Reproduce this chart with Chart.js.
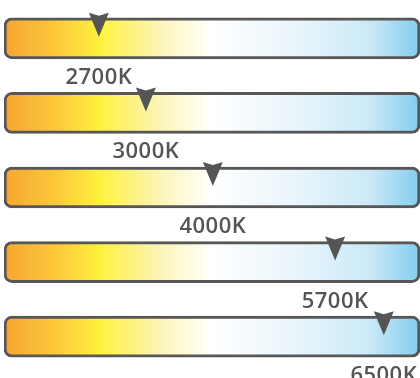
<!DOCTYPE html>
<html>
<head>
<meta charset="utf-8">
<script src="https://cdn.jsdelivr.net/npm/chart.js@4"></script>
<style>
  body { margin: 0; background: #fff; }
</style>
</head>
<body>
<canvas id="cctChart" width="420" height="378"></canvas>
<script>
// colour temperature bars

const rows = ["a", "b", "c", "d", "e"];
const kelvinLabels = ["2700K", "3000K", "4000K", "5700K", "6500K"];
// where the marker sits along each bar, in % of bar length
const markerPos = [22.8, 34.1, 50.2, 79.6, 91.3];
const barRange = [0, 100];

function warmCoolGradient(ctx) {
    const area = ctx.chart.chartArea;
    if (!area) return "#fff";
    const g = ctx.chart.ctx.createLinearGradient(area.left, 0, area.right, 0);
    g.addColorStop(0, "#f6a531");
    g.addColorStop(0.12, "#fcc73a");
    g.addColorStop(0.23, "#fff13e");
    g.addColorStop(0.36, "#fdf4ae");
    g.addColorStop(0.5, "#ffffff");
    g.addColorStop(0.72, "#e6f4fb");
    g.addColorStop(0.88, "#cbe9f8");
    g.addColorStop(1, "#84ccef");
    return g;
}

const markerPlugin = {
    id: "markers",
    afterDatasetsDraw(chart) {
        const ctx = chart.ctx;
        const meta = chart.getDatasetMeta(0);
        const xs = chart.scales.x;
        meta.data.forEach((bar, i) => {
            const top = bar.y - bar.height / 2;
            const bottom = bar.y + bar.height / 2;
            const cx = xs.getPixelForValue(markerPos[i]);
            const t = top - 5;

            ctx.save();
            ctx.fillStyle = "#555555";
            ctx.beginPath();
            ctx.moveTo(cx - 10, t);
            ctx.lineTo(cx, t + 3);
            ctx.lineTo(cx + 10, t);
            ctx.lineTo(cx, t + 24);
            ctx.closePath();
            ctx.fill();

            ctx.font = "600 22px 'Open Sans'";
            ctx.letterSpacing = "0.5px";
            ctx.textAlign = "center";
            ctx.textBaseline = "alphabetic";
            ctx.fillText(kelvinLabels[i], cx, bottom + 25);
            ctx.restore();
        });
    }
};

new Chart(document.getElementById("cctChart"), {
    type: "bar",
    data: {
        labels: rows,
        datasets: [{
            data: rows.map(() => barRange),
            backgroundColor: warmCoolGradient,
            borderColor: "#575757",
            borderWidth: 3,
            borderRadius: 8,
            borderSkipped: false,
            barThickness: 41
        }]
    },
    options: {
        indexAxis: "y",
        responsive: false,
        animation: false,
        layout: { padding: { left: 4, right: 0, top: 1, bottom: 4 } },
        plugins: { legend: { display: false }, tooltip: { enabled: false } },
        scales: {
            x: { display: false, min: 0, max: 100 },
            y: { display: false }
        }
    },
    plugins: [markerPlugin]
});
</script>
</body>
</html>
